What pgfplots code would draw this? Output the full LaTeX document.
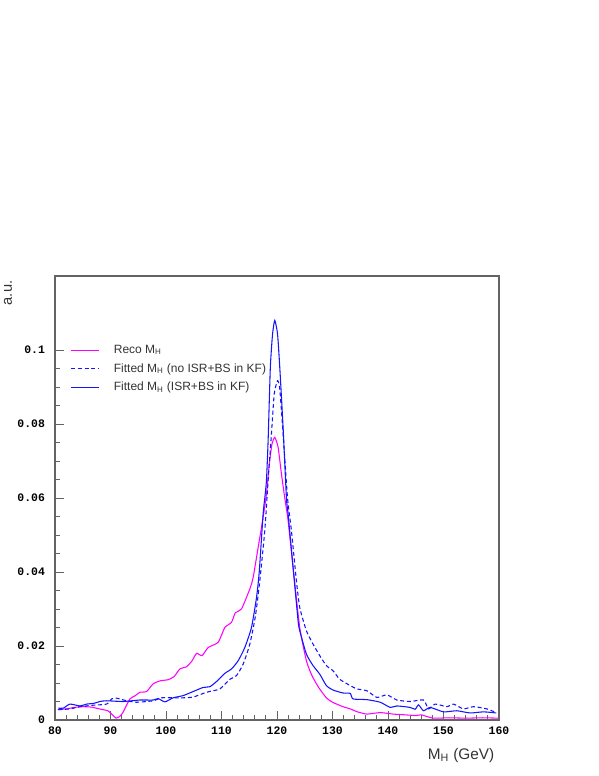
\documentclass[border=0pt]{standalone}
\usepackage{pgfplots}
\pgfplotsset{compat=1.18}
\usepackage{fontspec}
\setmainfont{Liberation Sans}
\newfontfamily\monofont{Liberation Mono}

\definecolor{recomag}{RGB}{255,0,255}
\definecolor{fitblue}{RGB}{20,20,255}
\definecolor{framegray}{RGB}{100,100,100}

\begin{document}
\begin{tikzpicture}
\path[use as bounding box] (-41.25pt,-42pt) rectangle (408pt,540pt);
\begin{axis}[
    at={(0pt,0pt)}, anchor=south west,
    scale only axis, width=333pt, height=333pt,
    clip=false,
    xmin=80, xmax=160, ymin=0, ymax=0.12,
    xtick={80,90,...,160},
    xticklabels={80,90,100,110,120,130,140,150,160},
    ytick={0,0.02,0.04,0.06,0.08,0.1},
    yticklabels={0,0.02,0.04,0.06,0.08,0.1},
    minor x tick num=4, minor y tick num=3,
    xtick pos=left, ytick pos=left,
    tick align=inside,
    major tick length=6.75pt, minor tick length=3.75pt,
    every tick/.style={framegray, line width=0.6pt},
    axis line style={framegray, line width=0.8pt},
    /pgf/number format/assume math mode=true,
    ticklabel style={font=\monofont\bfseries\fontsize{8.6}{10}\selectfont},
    yticklabel style={xshift=-4pt},
    xticklabel style={yshift=-1.5pt},
    xlabel={M\textsubscript{H} (GeV)},
    xlabel style={at={(rel axis cs:1,0)}, anchor=east, yshift=-26.5pt,
        font=\fontsize{11.5}{13}\selectfont, text=black!80},
    legend cell align=left,
    legend style={at={(0.035,0.849)}, anchor=north west, draw=none, fill=none,
        inner sep=0pt, row sep=3pt, column sep=9pt,
        font=\fontsize{9}{11}\selectfont, text=black!80,
        nodes={inner sep=1.5pt}},
    legend image code/.code={\draw[#1] (0pt,0pt) -- (21pt,0pt);},
    every axis plot/.append style={smooth, tension=0.35},
]
\addplot[recomag, line width=0.8pt] coordinates {
(80.5,0.0028) (82,0.0030) (83.5,0.0034) (85,0.0036) (86.5,0.0035)
(88,0.0030) (89.5,0.0025) (90.3,0.0015) (91,0.0005) (91.7,0.0010)
(92.3,0.0022) (93.5,0.0057) (94.5,0.0066) (95.3,0.0075) (96.5,0.0077)
(97.7,0.0098) (99,0.0106) (100.4,0.0109) (101.5,0.0118) (102.5,0.0138)
(103.7,0.0144) (104.7,0.0160) (105.5,0.0180) (106.5,0.0174) (107.6,0.0196)
(109.4,0.0210) (110.6,0.0250) (111.8,0.0264) (112.5,0.0290) (113.6,0.0300)
(115.1,0.0354) (115.7,0.0385) (116.6,0.0466) (117.5,0.0548) (118.1,0.0610)
(118.6,0.0690) (119.1,0.0746) (119.6,0.0764) (120.2,0.0737) (120.8,0.0665)
(121.4,0.0600) (122.0,0.0539) (122.9,0.0412) (124.1,0.0250) (125.3,0.0160)
(126.3,0.0120) (127.5,0.0088) (128.9,0.0060) (130,0.0048) (131.9,0.0036)
(133.2,0.0030) (134.5,0.0022) (136.2,0.0016) (138.6,0.0020) (140.9,0.0016)
(143,0.0014) (145.1,0.0012) (146,0.0014) (148.1,0.0005) (151,0.0006)
(154.1,0.0005) (157,0.0006) (159.8,0.0005)
};
\addlegendentry{Reco M\textsubscript{H}}
\addplot[fitblue, line width=0.8pt, dash pattern=on 3pt off 2pt] coordinates {
(80.6,0.0028) (82.7,0.0030) (84.5,0.0036) (86.9,0.0040) (89.3,0.0043)
(90.2,0.0057) (91.1,0.0059) (92.9,0.0052) (94.7,0.0048) (97.7,0.0052)
(99.2,0.0060) (101.3,0.0060) (103.1,0.0060) (104.9,0.0062) (107.3,0.0075)
(109.7,0.0084) (111.5,0.0110) (112.7,0.0120) (113.9,0.0151) (115.1,0.0205)
(116.1,0.0280) (116.9,0.0376) (117.8,0.0512) (118.4,0.0647) (119.0,0.0773)
(119.5,0.0881) (120.1,0.0917) (120.5,0.0895) (121.1,0.0773) (121.9,0.0600)
(122.6,0.0512) (123.5,0.0376) (124.1,0.0304) (125.3,0.0241) (126.5,0.0205)
(127.7,0.0174) (128.9,0.0147) (130.1,0.0133) (131.3,0.0110) (133.2,0.0093)
(134.4,0.0084) (136.2,0.0079) (138.0,0.0061) (139.8,0.0068) (141.6,0.0054)
(144.0,0.0050) (146.4,0.0054) (147.3,0.0030) (148.5,0.0043) (150.6,0.0036)
(151.8,0.0043) (153.6,0.0030) (155.4,0.0036) (157.8,0.0030) (159.5,0.0020)
};
\addlegendentry{Fitted M\textsubscript{H} (no ISR+BS in KF)}
\addplot[fitblue, line width=0.8pt] coordinates {
(80.6,0.0032) (81.5,0.0032) (82.7,0.0043) (84.5,0.0038) (85.7,0.0043)
(87,0.0045) (88.1,0.0050) (89.3,0.0052) (92.3,0.0050) (95.3,0.0054)
(97.7,0.0054) (98.6,0.0058) (99.8,0.0049) (101.3,0.0060) (103.1,0.0066)
(104.9,0.0077) (106.7,0.0088) (107.9,0.0090) (109.1,0.0104) (110.6,0.0126)
(111.8,0.0138) (113.0,0.0160) (114.2,0.0196) (115.4,0.0250) (116.3,0.0330)
(116.8,0.0400) (117.5,0.0557) (117.8,0.0600) (118.1,0.0647) (118.4,0.0755)
(118.8,0.0953) (119.2,0.1043) (119.6,0.1080) (120.1,0.1043) (120.5,0.0953)
(121.1,0.0790) (121.7,0.0600) (122.0,0.0557) (122.9,0.0412) (123.8,0.0268)
(124.1,0.0241) (125.3,0.0178) (126.5,0.0147) (127.7,0.0124) (128.9,0.0093)
(130.1,0.0081) (131.9,0.0073) (133.2,0.0072) (133.7,0.0057) (136.2,0.0055)
(138.6,0.0048) (140.4,0.0034) (141.6,0.0038) (144.0,0.0034) (144.9,0.0029)
(145.5,0.0041) (146.4,0.0025) (147.6,0.0034) (150.0,0.0022) (152.4,0.0025)
(154.8,0.0019) (157.2,0.0022) (159.5,0.0019)
};
\addlegendentry{Fitted M\textsubscript{H} (ISR+BS in KF)}
\node[xshift=-35.25pt, rotate=90, anchor=east, font=\fontsize{11}{13}\selectfont, text=black!80]
    at (rel axis cs:0,1) {a.u.};
\end{axis}
\end{tikzpicture}
\end{document}
